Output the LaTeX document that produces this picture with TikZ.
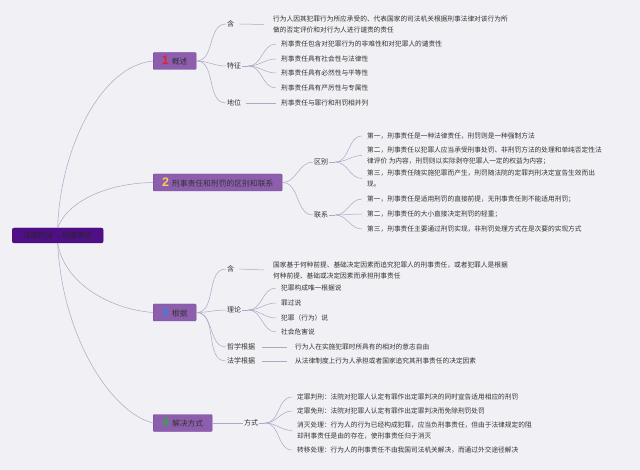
\documentclass[tikz,border=0pt]{standalone}
\usepackage{fontspec}
\setmainfont{Noto Sans CJK SC}
\newfontfamily\numfont{Liberation Sans}
\definecolor{bg}{HTML}{F1F0F4}
\definecolor{linec}{HTML}{B0A6C6}
\definecolor{topicc}{HTML}{8E5EAE}
\definecolor{topicb}{HTML}{70439A}
\definecolor{rootc}{HTML}{4F0F86}
\definecolor{txt}{HTML}{333333}
\definecolor{numa}{HTML}{E3202C}
\definecolor{numb}{HTML}{F4D04A}
\definecolor{numc}{HTML}{3C7FD8}
\definecolor{numd}{HTML}{3BA24A}
\begin{document}
\begin{tikzpicture}[x=1pt,y=-1pt,
  conn/.style={draw=linec, line width=0.5pt},
  leaf/.style={anchor=west, inner sep=1pt, font=\fontsize{6.7}{11}\selectfont, text=txt, align=left},
  lbl/.style={anchor=west, inner sep=1pt, font=\fontsize{7}{9}\selectfont, text=txt},
  topic/.style={anchor=west, fill=topicc, draw=topicb, line width=0.4pt, rounded corners=1pt, minimum height=17pt, inner xsep=3pt, inner ysep=0pt, font=\fontsize{7.8}{9}\selectfont, text=txt},
  rootbox/.style={anchor=west, fill=rootc, draw=rootc!80!black, line width=0.4pt, rounded corners=2pt, minimum height=15pt, minimum width=91pt, inner sep=0pt, font=\fontsize{7.5}{9}\selectfont, text=black!85},
  fan/.style={conn, out=0, in=180}
]
\fill[bg] (0,0) rectangle (640,470);
\useasboundingbox (0,0) rectangle (640,470);

\newcommand{\bignum}[2]{{\numfont\fontsize{12.5}{12}\bfseries\selectfont\color{#1}#2}\hspace{3pt}}

% root
\node[rootbox] (root) at (12,235.5) {法硕刑法\hspace{4pt}-\hspace{2pt}刑事责任};

% topics
\node[topic, minimum width=43pt] (t1) at (153,61) {\bignum{numa}{1}概述};
\node[topic, minimum width=129pt] (t2) at (153,182.5) {\bignum{numb}{2}刑事责任和刑罚的区别和联系};
\node[topic, minimum width=43pt] (t3) at (153,312.5) {\bignum{numc}{3}根据};
\node[topic, minimum width=59pt] (t4) at (153,423) {\bignum{numd}{4}解决方式};

\draw[conn] (root.north) .. controls (60,150) and (100,66) .. (t1.west);
\draw[conn] (root.north) .. controls (68,200) and (110,183) .. (t2.west);
\draw[conn] (root.south) .. controls (64,282) and (108,309) .. (t3.west);
\draw[conn] (root.south) .. controls (62,335) and (110,412) .. (t4.west);

% ---- topic 1
\node[lbl] (a0) at (226,24) {含};
\node[leaf] (a0x) at (272,24.5) {行为人因其犯罪行为所应承受的、代表国家的司法机关根据刑事法律对该行为所\\做的否定评价和对行为人进行谴责的责任};
\node[lbl] (a1) at (226,66) {特征};
\node[leaf] (a11) at (280,44) {刑事责任包含对犯罪行为的非难性和对犯罪人的谴责性};
\node[leaf] (a12) at (280,59) {刑事责任具有社会性与法律性};
\node[leaf] (a13) at (280,73) {刑事责任具有必然性与平等性};
\node[leaf] (a14) at (280,88) {刑事责任具有严厉性与专属性};
\node[lbl] (a2) at (226,103) {地位};
\node[leaf] (a21) at (280,103) {刑事责任与罪行和刑罚相并列};

\draw[fan] (t1.east) to (a0.west);
\draw[fan] (t1.east) to (a1.west);
\draw[fan] (t1.east) to (a2.west);
\draw[conn] ([xshift=4pt]a0.east) -- ([xshift=-8pt]a0x.west);
\coordinate (a1o) at ([xshift=6pt]a1.east);
\draw[conn] (a1.east) -- (a1o);
\foreach \n in {a11,a12,a13,a14} \draw[fan] (a1o) to ([xshift=-4pt]\n.west);
\draw[conn] ([xshift=4pt]a2.east) -- ([xshift=-4pt]a21.west);

% ---- topic 2
\node[lbl] (b1) at (313,162) {区别};
\node[leaf] (b11) at (366,136) {第一，刑事责任是一种法律责任，刑罚则是一种强制方法};
\node[leaf] (b12) at (366,155.5) {第二，刑事责任以犯罪人应当承受刑事处罚、非刑罚方法的处理和单纯否定性法\\律评价 为内容，刑罚则以实际剥夺犯罪人一定的权益为内容；};
\node[leaf] (b13) at (366,178.5) {第三，刑事责任随实施犯罪而产生，刑罚随法院的定罪判刑决定宣告生效而出\\现。};
\node[lbl] (b2) at (313,215) {联系};
\node[leaf] (b21) at (366,199) {第一，刑事责任是适用刑罚的直接前提，无刑事责任则不能适用刑罚；};
\node[leaf] (b22) at (366,214) {第二，刑事责任的大小直接决定刑罚的轻重；};
\node[leaf] (b23) at (366,229) {第三，刑事责任主要通过刑罚实现，非刑罚处理方式在是次要的实现方式};

\draw[fan] (t2.east) to (b1.west);
\draw[fan] (t2.east) to (b2.west);
\coordinate (b1o) at ([xshift=6pt]b1.east);
\draw[conn] (b1.east) -- (b1o);
\foreach \n in {b11,b12,b13} \draw[fan] (b1o) to ([xshift=-4pt]\n.west);
\coordinate (b2o) at ([xshift=6pt]b2.east);
\draw[conn] (b2.east) -- (b2o);
\foreach \n in {b21,b22,b23} \draw[fan] (b2o) to ([xshift=-4pt]\n.west);

% ---- topic 3
\node[lbl] (c0) at (226,269) {含};
\node[leaf] (c0x) at (272,270) {国家基于何种前提、基础决定因素而追究犯罪人的刑事责任，或者犯罪人是根据\\何种前提、基础或决定因素而承担刑事责任};
\node[lbl] (c1) at (226,310) {理论};
\node[leaf] (c11) at (280,288) {犯罪构成唯一根据说};
\node[leaf] (c12) at (280,303) {罪过说};
\node[leaf] (c13) at (280,318) {犯罪（行为）说};
\node[leaf] (c14) at (280,332) {社会危害说};
\node[lbl] (c2) at (226,347) {哲学根据};
\node[leaf] (c21) at (294,347) {行为人在实施犯罪时所具有的相对的意志自由};
\node[lbl] (c3) at (226,361) {法学根据};
\node[leaf] (c31) at (294,361) {从法律制度上行为人承担或者国家追究其刑事责任的决定因素};

\draw[fan] (t3.east) to (c0.west);
\draw[fan] (t3.east) to (c1.west);
\draw[fan] (t3.east) to (c2.west);
\draw[fan] (t3.east) to (c3.west);
\draw[conn] ([xshift=4pt]c0.east) -- ([xshift=-8pt]c0x.west);
\coordinate (c1o) at ([xshift=6pt]c1.east);
\draw[conn] (c1.east) -- (c1o);
\foreach \n in {c11,c12,c13,c14} \draw[fan] (c1o) to ([xshift=-4pt]\n.west);
\draw[conn] ([xshift=6pt]c2.east) -- ([xshift=-7pt]c21.west);
\draw[conn] ([xshift=6pt]c3.east) -- ([xshift=-7pt]c31.west);

% ---- topic 4
\node[lbl] (d1) at (243,423) {方式};
\node[leaf] (d11) at (296,397) {定罪判刑：法院对犯罪人认定有罪作出定罪判决的同时宣告适用相应的刑罚};
\node[leaf] (d12) at (296,411) {定罪免刑：法院对犯罪人认定有罪作出定罪判决而免除刑罚处罚};
\node[leaf] (d13) at (296,430.5) {消灭处理：行为人的行为已经构成犯罪，应当负刑事责任，但由于法律规定的阻\\却刑事责任是由的存在，使刑事责任归于消灭};
\node[leaf] (d14) at (296,450) {转移处理：行为人的刑事责任不由我国司法机关解决，而通过外交途径解决};

\draw[conn] (t4.east) -- (d1.west);
\coordinate (d1o) at ([xshift=6pt]d1.east);
\draw[conn] (d1.east) -- (d1o);
\foreach \n in {d11,d12,d13,d14} \draw[fan] (d1o) to ([xshift=-4pt]\n.west);
\end{tikzpicture}
\end{document}
